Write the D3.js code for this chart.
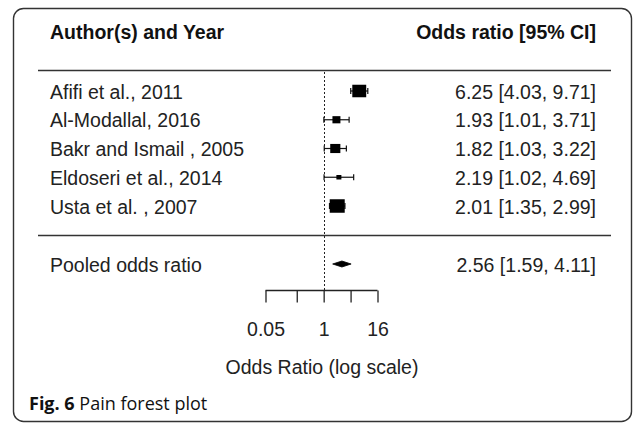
<!DOCTYPE html>
<head>
  <title>Pain forest plot</title>
  <meta charset="utf-8">
  <style>
    body { margin: 0; background: #fff; }
    text { font-family: "Liberation Sans", Arial, sans-serif; fill: #222; }
  </style>
</head>
<body>
  <script src="https://cdn.jsdelivr.net/npm/d3@7"></script>
  <script>
    // study data (odds ratios, 95% CI, relative weights)
    let studies = ["Afifi et al., 2011", "Al-Modallal, 2016", "Bakr and Ismail , 2005",
                   "Eldoseri et al., 2014", "Usta et al. , 2007"];
    let oddsRatio = [6.25, 1.93, 1.82, 2.19, 2.01];
    let ciLow = [4.03, 1.01, 1.03, 1.02, 1.35];
    let ciHigh = [9.71, 3.71, 3.22, 4.69, 2.99];
    let weights = [22.6, 18.2, 19.8, 16.0, 23.4];
    let pooled = {label: "Pooled odds ratio", or: 2.56, lo: 1.59, hi: 4.11};
    let tickValues = [0.05, 0.25, 1, 4, 16];
    let tickLabels = ["0.05", "", "1", "", "16"];

    let W = 634, H = 423;
    let svg = d3.select("body").append("svg")
      .attr("width", W)
      .attr("height", H);

    // frame
    svg.append("rect")
      .attr("x", 13.5).attr("y", 8.5)
      .attr("width", 618).attr("height", 413)
      .attr("rx", 10).attr("ry", 10)
      .attr("fill", "none")
      .attr("stroke", "#333")
      .attr("stroke-width", 1.4);

    let fmt = d3.format(".2f");
    let data = studies.map((s, i) => ({
      name: s, or: oddsRatio[i], lo: ciLow[i], hi: ciHigh[i], w: weights[i]
    }));

    let x = d3.scaleLog().domain([0.05, 16]).range([265.5, 377.5]);
    let y = d3.scalePoint().domain(studies).range([91, 206]);
    let yPooled = 264;
    let size = d3.scaleLinear().domain(d3.extent(weights)).range([5, 15]);

    let leftX = 50, rightX = 596;

    // header
    svg.append("text").attr("x", leftX).attr("y", 39)
      .style("font-weight", "bold").style("font-size", "19.5px").style("fill", "#111")
      .text("Author(s) and Year");
    svg.append("text").attr("x", rightX).attr("y", 39)
      .attr("text-anchor", "end")
      .style("font-weight", "bold").style("font-size", "19.5px").style("fill", "#111")
      .text("Odds ratio [95% CI]");

    // horizontal rules
    svg.append("line").attr("x1", 38).attr("x2", 611).attr("y1", 70.5).attr("y2", 70.5)
      .attr("stroke", "#333").attr("stroke-width", 1.3);
    svg.append("line").attr("x1", 38).attr("x2", 611).attr("y1", 235.5).attr("y2", 235.5)
      .attr("stroke", "#333").attr("stroke-width", 1.3);

    // reference line at OR = 1
    svg.append("line")
      .attr("x1", Math.round(x(1)) + 0.5).attr("x2", Math.round(x(1)) + 0.5)
      .attr("y1", 72).attr("y2", 290)
      .attr("stroke", "#222").attr("stroke-width", 1)
      .attr("stroke-dasharray", "2,2");

    let rows = svg.append("g").attr("id", "rows");

    // study labels
    rows.selectAll(".lab").data(data).enter().append("text")
      .attr("class", "lab")
      .attr("x", leftX)
      .attr("y", d => y(d.name) + 7.5)
      .style("font-size", "19.5px")
      .text(d => d.name);

    rows.selectAll(".val").data(data).enter().append("text")
      .attr("class", "val")
      .attr("x", rightX)
      .attr("y", d => y(d.name) + 7.5)
      .attr("text-anchor", "end")
      .style("font-size", "19.5px")
      .text(d => fmt(d.or) + " [" + fmt(d.lo) + ", " + fmt(d.hi) + "]");

    // CI whiskers
    rows.selectAll(".ci").data(data).enter().append("line")
      .attr("x1", d => x(d.lo)).attr("x2", d => x(d.hi))
      .attr("y1", d => y(d.name)).attr("y2", d => y(d.name))
      .attr("stroke", "#111").attr("stroke-width", 1.2);
    rows.selectAll(".capl").data(data).enter().append("line")
      .attr("x1", d => x(d.lo)).attr("x2", d => x(d.lo))
      .attr("y1", d => y(d.name) - 3).attr("y2", d => y(d.name) + 3)
      .attr("stroke", "#111").attr("stroke-width", 1.2);
    rows.selectAll(".caph").data(data).enter().append("line")
      .attr("x1", d => x(d.hi)).attr("x2", d => x(d.hi))
      .attr("y1", d => y(d.name) - 3).attr("y2", d => y(d.name) + 3)
      .attr("stroke", "#111").attr("stroke-width", 1.2);

    // weighted squares
    rows.selectAll(".box").data(data).enter().append("rect")
      .attr("x", d => x(d.or) - size(d.w) / 2)
      .attr("y", d => y(d.name) - size(d.w) * 0.45)
      .attr("width", d => size(d.w))
      .attr("height", d => size(d.w) * 0.9)
      .attr("fill", "#000");

    // pooled estimate
    svg.append("text").attr("x", leftX).attr("y", yPooled + 7.5)
      .style("font-size", "19.5px").text(pooled.label);
    svg.append("text").attr("x", rightX).attr("y", yPooled + 7.5)
      .attr("text-anchor", "end").style("font-size", "19.5px")
      .text(fmt(pooled.or) + " [" + fmt(pooled.lo) + ", " + fmt(pooled.hi) + "]");
    svg.append("path")
      .attr("d", "M" + x(pooled.lo) + "," + yPooled +
                 "L" + x(pooled.or) + "," + (yPooled - 3) +
                 "L" + x(pooled.hi) + "," + yPooled +
                 "L" + x(pooled.or) + "," + (yPooled + 3) + "Z")
      .attr("fill", "#000").attr("stroke", "#000").attr("stroke-width", 0.8);

    // log axis
    let axis = svg.append("g")
      .attr("transform", "translate(0,290.5)")
      .call(d3.axisBottom(x).tickValues(tickValues).tickSize(12).tickSizeOuter(0)
        .tickFormat((d, i) => tickLabels[i]));
    axis.select(".domain").attr("stroke", "#222").attr("stroke-width", 1.3)
      .attr("d", "M" + x(0.05) + ",0H" + x(16));
    axis.selectAll(".tick line").attr("stroke", "#222").attr("stroke-width", 1.3);
    axis.selectAll(".tick text")
      .attr("y", 45.5).attr("dy", null)
      .style("font-size", "19.5px")
      .style("font-family", "'Liberation Sans', Arial, sans-serif")
      .attr("fill", "#222");

    svg.append("text").attr("x", 322).attr("y", 374)
      .attr("text-anchor", "middle").style("font-size", "19.5px")
      .text("Odds Ratio (log scale)");

    // caption
    let cap = svg.append("text").attr("x", 29).attr("y", 410)
      .style("font-family", "'Open Sans', 'Noto Sans', sans-serif")
      .style("font-size", "18px").style("fill", "#111");
    cap.append("tspan").style("font-weight", "bold").text("Fig. 6");
    cap.append("tspan").text(" Pain forest plot");
  </script>
</body>
